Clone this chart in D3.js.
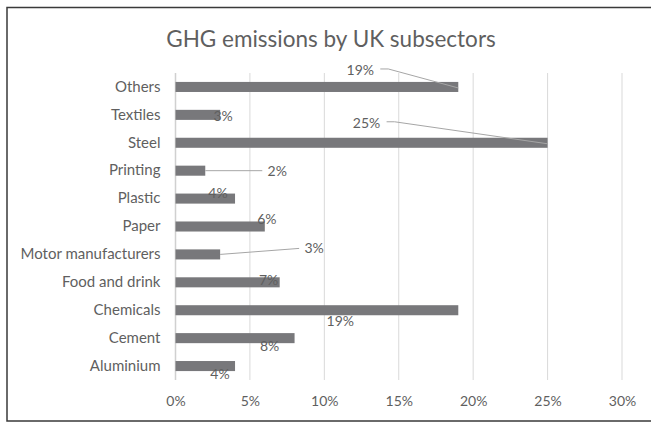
<!DOCTYPE html>
<html>
<head>
<meta charset="utf-8">
<script src="https://cdn.jsdelivr.net/npm/d3@7"></script>
<style>
  body { margin: 0; background: #fff; overflow: hidden; }
  svg text { font-family: Lato, "Open Sans", sans-serif; fill: #5f5f5f; }
</style>
</head>
<body>
<svg id="chart" width="651" height="423"></svg>
<script>
const categories = ["Others", "Textiles", "Steel", "Printing", "Plastic", "Paper",
  "Motor manufacturers", "Food and drink", "Chemicals", "Cement", "Aluminium"];
const shares = [19, 3, 25, 2, 4, 6, 3, 7, 19, 8, 4];
const tickValues = [0, 5, 10, 15, 20, 25, 30];

// label placement relative to bar end (px), and whether a leader line is drawn
const labelOffsets = [
  [-98, -17, true], [3, 1, false], [-181, -20, true], [72, 0, true],
  [-17, -5, false], [2, -7, false], [94, -6, true], [-11, -2, false],
  [-118, 11, false], [-25, 8, false], [-15, 8, false]
];

const svg = d3.select("#chart");
const width = 651, height = 423;
const margin = { top: 73, right: 29, bottom: 43, left: 175.5 };

// frame (right edge falls outside the picture)
svg.append("path")
  .attr("d", "M700,7.5H7V421H700")
  .attr("fill", "none").attr("stroke", "#3a3a3a").attr("stroke-width", 1.5);

svg.append("text")
  .attr("x", 331).attr("y", 47)
  .attr("text-anchor", "middle")
  .attr("font-size", 22.5)
  .text("GHG emissions by UK subsectors");

const x = d3.scaleLinear()
  .domain([0, 30])
  .range([margin.left, width - margin.right]);

const y = d3.scaleBand()
  .domain(categories)
  .range([margin.top, height - margin.bottom])
  .paddingInner(0.64).paddingOuter(0.32);

// gridlines
svg.append("g")
  .selectAll("line")
  .data(tickValues)
  .join("line")
  .attr("x1", d => x(d)).attr("x2", d => x(d))
  .attr("y1", margin.top).attr("y2", height - margin.bottom)
  .attr("stroke", d => d === 0 ? "#d0d0d0" : "#d9d9d9")
  .attr("stroke-width", d => d === 0 ? 1.5 : 1);

// x axis
const xAxis = svg.append("g")
  .attr("transform", `translate(0,${height - margin.bottom})`)
  .call(d3.axisBottom(x).tickValues(tickValues).tickFormat(d => d + "%").tickSize(0).tickPadding(16));
xAxis.select(".domain").remove();
xAxis.selectAll("text").attr("font-size", 14).attr("font-family", null).attr("fill", "#5f5f5f");

// y axis
const yAxis = svg.append("g")
  .attr("transform", `translate(${margin.left},0)`)
  .call(d3.axisLeft(y).tickSize(0).tickPadding(15));
yAxis.select(".domain").remove();
yAxis.selectAll("text").attr("font-size", 15).attr("font-family", null).attr("fill", "#5f5f5f");

// bars
svg.append("g")
  .selectAll("rect")
  .data(categories)
  .join("rect")
  .attr("x", x(0))
  .attr("y", d => y(d))
  .attr("width", (d, i) => x(shares[i]) - x(0))
  .attr("height", y.bandwidth())
  .attr("fill", "#78787b");

// leader lines
categories.forEach((c, i) => {
  const [dx, dy, leader] = labelOffsets[i];
  if (!leader) return;
  const ex = x(shares[i]), ey = y(c) + y.bandwidth() / 2;
  const lx = ex + dx, ly = ey + dy;
  let pts;
  if (dx < 0) {
    const sx = lx + 20;
    pts = [[sx, ly - 1], [sx + 8, ly - 1], [ex, ey + 1]];
  } else {
    pts = [[lx - 15, ly], [ex, ey]];
  }
  svg.append("path")
    .attr("d", d3.line()(pts))
    .attr("fill", "none")
    .attr("stroke", "#a6a6a6")
    .attr("stroke-width", 1);
});

// data labels
svg.append("g")
  .selectAll("text")
  .data(categories)
  .join("text")
  .attr("x", (d, i) => x(shares[i]) + labelOffsets[i][0])
  .attr("y", (d, i) => y(d) + y.bandwidth() / 2 + labelOffsets[i][1])
  .attr("dy", "0.35em")
  .attr("text-anchor", "middle")
  .attr("font-size", 14)
  .text((d, i) => shares[i] + "%");
</script>
</body>
</html>
